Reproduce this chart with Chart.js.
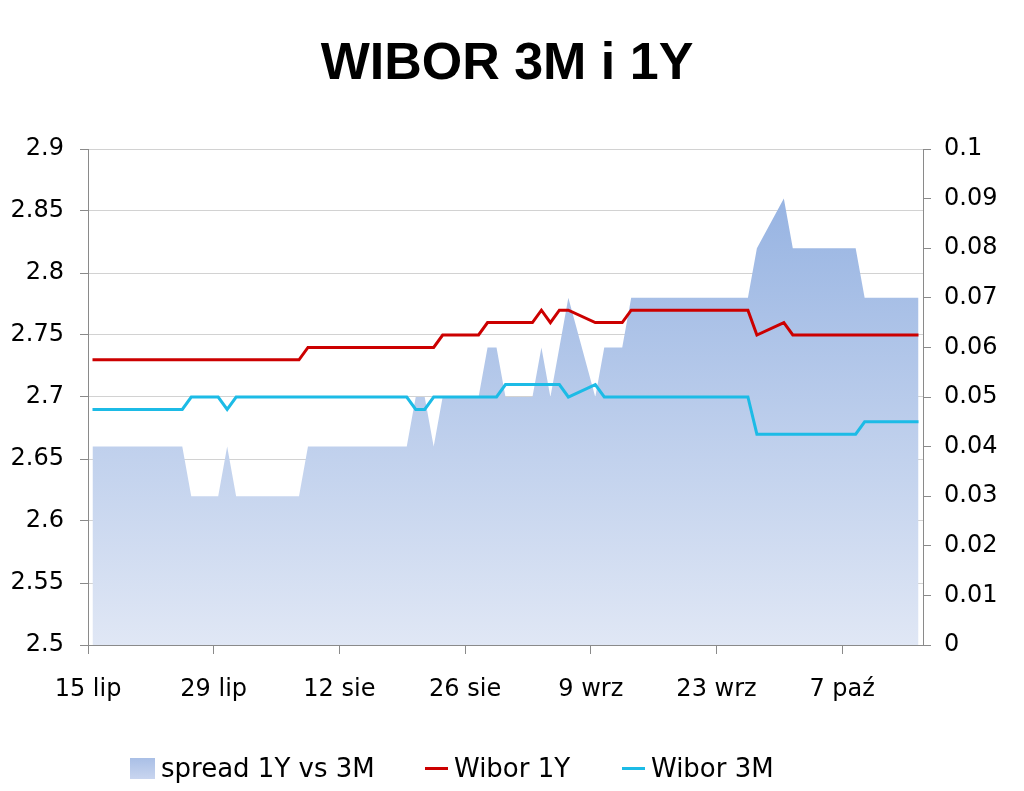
<!DOCTYPE html>
<html>
<head>
<meta charset="utf-8">
<script src="https://cdn.jsdelivr.net/npm/chart.js@4/dist/chart.umd.min.js"></script>
<style>
  html, body { margin: 0; padding: 0; background: #fff; }
  #wrap { position: relative; width: 1024px; height: 791px; overflow: hidden; }
  #c { position: absolute; left: 0; top: 0; }
  .lg { position: absolute; top: 753px; height: 30px; line-height: 30px; font-family: "DejaVu Sans", sans-serif; font-size: 26px; color: #000; white-space: nowrap; }
  .sw { position: absolute; }
</style>
</head>
<body>
<div id="wrap">
  <canvas id="c" width="1024" height="791"></canvas>
  <div class="sw" style="left:130px; top:758px; width:25px; height:21px; background: linear-gradient(#a9bfe6, #c9d5ef);"></div>
  <div class="lg" style="left:161px;">spread 1Y vs 3M</div>
  <div class="sw" style="left:425px; top:767px; width:23px; height:3px; background:#cc0000;"></div>
  <div class="lg" style="left:454px;">Wibor 1Y</div>
  <div class="sw" style="left:622px; top:767px; width:23px; height:3px; background:#1cbbe6;"></div>
  <div class="lg" style="left:651px;">Wibor 3M</div>
</div>
<script>
// ---- data (business days, Jul 15 – Oct 15) ----
const dates = [
  "2013-07-15","2013-07-16","2013-07-17","2013-07-18","2013-07-19",
  "2013-07-22","2013-07-23","2013-07-24","2013-07-25","2013-07-26",
  "2013-07-29","2013-07-30","2013-07-31","2013-08-01","2013-08-02",
  "2013-08-05","2013-08-06","2013-08-07","2013-08-08","2013-08-09",
  "2013-08-12","2013-08-13","2013-08-14","2013-08-15","2013-08-16",
  "2013-08-19","2013-08-20","2013-08-21","2013-08-22","2013-08-23",
  "2013-08-26","2013-08-27","2013-08-28","2013-08-29","2013-08-30",
  "2013-09-02","2013-09-03","2013-09-04","2013-09-05","2013-09-06",
  "2013-09-09","2013-09-10","2013-09-11","2013-09-12","2013-09-13",
  "2013-09-16","2013-09-17","2013-09-18","2013-09-19","2013-09-20",
  "2013-09-23","2013-09-24","2013-09-25","2013-09-26","2013-09-27",
  "2013-09-30","2013-10-01","2013-10-02","2013-10-03","2013-10-04",
  "2013-10-07","2013-10-08","2013-10-09","2013-10-10","2013-10-11",
  "2013-10-14","2013-10-15"
];
const wibor1Y = [
  2.73,2.73,2.73,2.73,2.73,
  2.73,2.73,2.73,2.73,2.73,
  2.73,2.73,2.73,2.73,2.73,
  2.73,2.73,2.73,2.74,2.74,
  2.74,2.74,2.74,2.74,2.74,
  2.74,2.74,2.74,2.74,2.75,
  2.75,2.75,2.76,2.76,2.76,
  2.76,2.77,2.76,2.77,2.77,
  2.76,2.76,2.76,2.76,2.77,
  2.77,2.77,2.77,2.77,2.77,
  2.77,2.77,2.77,2.77,2.75,
  2.76,2.75,2.75,2.75,2.75,
  2.75,2.75,2.75,2.75,2.75,
  2.75,2.75
];
const wibor3M = [
  2.69,2.69,2.69,2.69,2.69,
  2.69,2.69,2.69,2.69,2.70,
  2.70,2.69,2.70,2.70,2.70,
  2.70,2.70,2.70,2.70,2.70,
  2.70,2.70,2.70,2.70,2.70,
  2.70,2.69,2.69,2.70,2.70,
  2.70,2.70,2.70,2.70,2.71,
  2.71,2.71,2.71,2.71,2.70,
  2.71,2.70,2.70,2.70,2.70,
  2.70,2.70,2.70,2.70,2.70,
  2.70,2.70,2.70,2.70,2.67,
  2.67,2.67,2.67,2.67,2.67,
  2.67,2.67,2.68,2.68,2.68,
  2.68,2.68
];
const spread = [
  0.04,0.04,0.04,0.04,0.04,
  0.04,0.04,0.04,0.04,0.03,
  0.03,0.04,0.03,0.03,0.03,
  0.03,0.03,0.03,0.04,0.04,
  0.04,0.04,0.04,0.04,0.04,
  0.04,0.05,0.05,0.04,0.05,
  0.05,0.05,0.06,0.06,0.05,
  0.05,0.06,0.05,0.06,0.07,
  0.05,0.06,0.06,0.06,0.07,
  0.07,0.07,0.07,0.07,0.07,
  0.07,0.07,0.07,0.07,0.08,
  0.09,0.08,0.08,0.08,0.08,
  0.08,0.08,0.07,0.07,0.07,
  0.07,0.07
];
const xTickDays = [0, 14, 28, 42, 56, 70, 84];
const xTickLabels = ["15 lip", "29 lip", "12 sie", "26 sie", "9 wrz", "23 wrz", "7 paź"];
const leftTickValues = [2.5, 2.55, 2.6, 2.65, 2.7, 2.75, 2.8, 2.85, 2.9];
const leftTickLabels = ["2.5", "2.55", "2.6", "2.65", "2.7", "2.75", "2.8", "2.85", "2.9"];
const rightTickValues = [0, 0.01, 0.02, 0.03, 0.04, 0.05, 0.06, 0.07, 0.08, 0.09, 0.1];
const rightTickLabels = ["0", "0.01", "0.02", "0.03", "0.04", "0.05", "0.06", "0.07", "0.08", "0.09", "0.1"];

// day offset of each date; point sits in the middle of its day
const t0 = Date.parse(dates[0]);
const dayX = dates.map(d => (Date.parse(d) - t0) / 86400000 + 0.5);
const pts = arr => arr.map((v, i) => ({ x: dayX[i], y: v }));

const FONT = "DejaVu Sans";
const AXIS = "#8a8a8a";
const GRID = "#d2d2d2";

new Chart(document.getElementById("c"), {
  type: "line",
  data: {
    datasets: [
      {
        label: "Wibor 1Y", data: pts(wibor1Y), yAxisID: "y",
        borderColor: "#cc0000", borderWidth: 3, pointRadius: 0, tension: 0, fill: false, order: 1
      },
      {
        label: "Wibor 3M", data: pts(wibor3M), yAxisID: "y",
        borderColor: "#1cbbe6", borderWidth: 3, pointRadius: 0, tension: 0, fill: false, order: 2
      },
      {
        label: "spread 1Y vs 3M", data: pts(spread), yAxisID: "y1",
        borderWidth: 0, borderColor: "rgba(0,0,0,0)", pointRadius: 0, tension: 0, fill: "origin", order: 3,
        backgroundColor: (ctx) => {
          const ch = ctx.chart, a = ch.chartArea;
          if (!a) return "#c0cff0";
          const g = ch.ctx.createLinearGradient(0, a.top, 0, a.bottom);
          g.addColorStop(0, "rgb(143,174,224)");
          g.addColorStop(1, "rgb(224,231,245)");
          return g;
        }
      }
    ]
  },
  options: {
    responsive: false,
    devicePixelRatio: 1,
    animation: false,
    layout: { padding: { left: 0, right: 10, top: 0, bottom: 0 } },
    plugins: {
      legend: { display: false },
      tooltip: { enabled: false },
      title: {
        display: true,
        text: "WIBOR 3M i 1Y",
        color: "#000",
        font: { family: "Liberation Sans", size: 52, weight: "bold", lineHeight: 1.2 },
        padding: { top: 33, bottom: 53.6 }
      }
    },
    scales: {
      x: {
        type: "linear", min: 0, max: 93,
        afterBuildTicks: s => { s.ticks = xTickDays.map(v => ({ value: v })); },
        afterFit: s => { s.height = 146; },
        ticks: {
          callback: (v, i) => xTickLabels[i],
          color: "#000", font: { family: FONT, size: 24 }, padding: 21, maxRotation: 0, autoSkip: false
        },
        grid: { drawOnChartArea: false, drawTicks: true, tickLength: 9, tickColor: AXIS, tickWidth: 1 },
        border: { display: true, color: AXIS, width: 1 }
      },
      y: {
        type: "linear", position: "left", min: 2.5, max: 2.9,
        afterBuildTicks: s => { s.ticks = leftTickValues.map(v => ({ value: v })); },
        afterFit: s => { s.width = 88; },
        ticks: {
          callback: (v, i) => leftTickLabels[i],
          color: "#000", font: { family: FONT, size: 24 }, padding: 16
        },
        grid: {
          color: c => (c.tick && c.tick.value === 2.5) ? "rgba(0,0,0,0)" : GRID,
          lineWidth: 1, drawTicks: true, tickLength: 8, tickColor: AXIS
        },
        border: { display: true, color: AXIS, width: 1 }
      },
      y1: {
        type: "linear", position: "right", min: 0, max: 0.1,
        afterBuildTicks: s => { s.ticks = rightTickValues.map(v => ({ value: v })); },
        afterFit: s => { s.width = 91; },
        ticks: {
          callback: (v, i) => rightTickLabels[i],
          color: "#000", font: { family: FONT, size: 24 }, padding: 13
        },
        grid: { drawOnChartArea: false, drawTicks: true, tickLength: 8, tickColor: AXIS },
        border: { display: true, color: AXIS, width: 1 }
      }
    }
  }
});
</script>
</body>
</html>
